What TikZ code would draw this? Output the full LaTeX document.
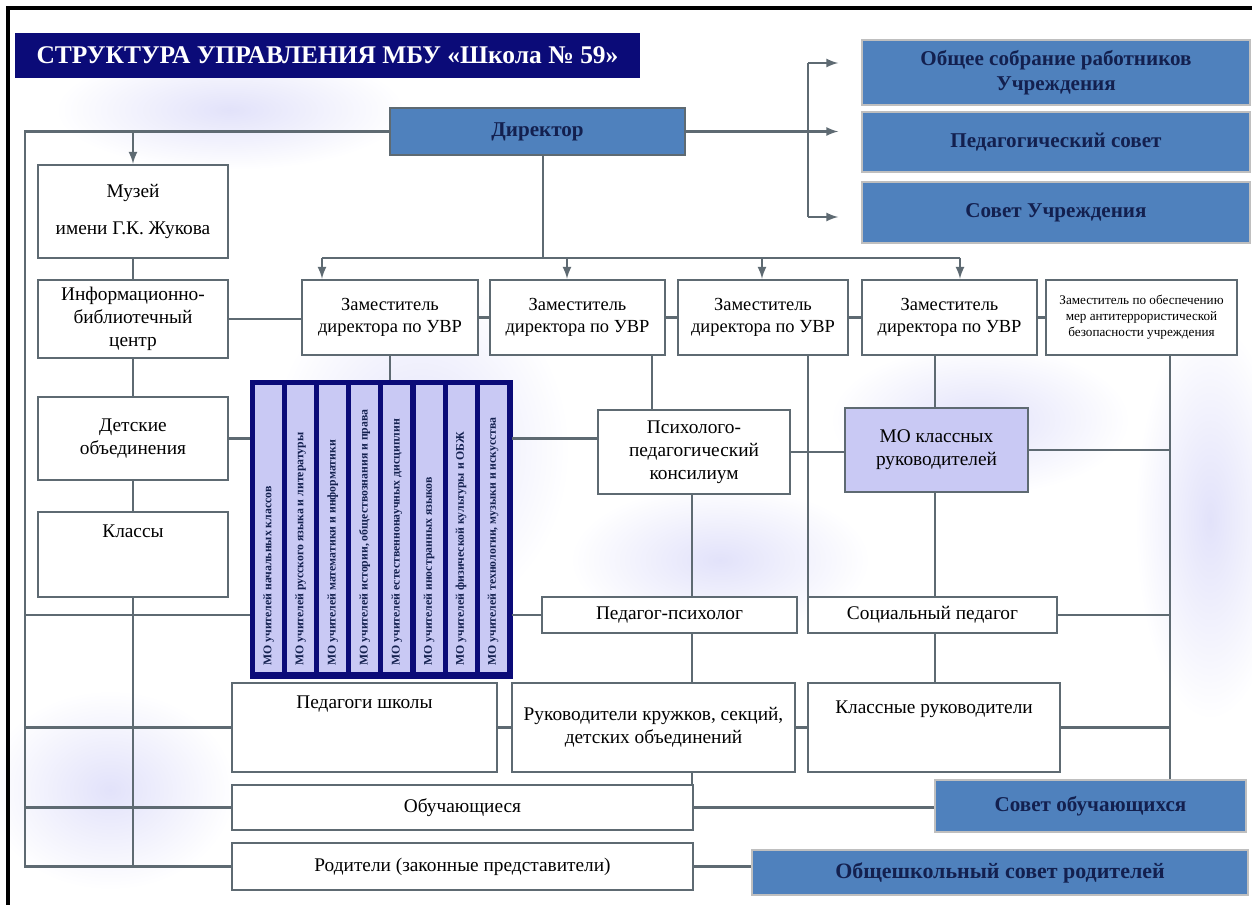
\documentclass[tikz,border=0pt]{standalone}
\usepackage{fontspec}
\setmainfont{Liberation Serif}
\usetikzlibrary{arrows}
\definecolor{linegray}{HTML}{5E6A72}
\definecolor{steel}{HTML}{4F81BD}
\definecolor{navy}{HTML}{0B0B78}
\definecolor{darktext}{HTML}{13204F}
\definecolor{lavender}{HTML}{C9C9F4}
\definecolor{haze}{HTML}{E2E2FA}
\tikzset{
  box/.style={draw=linegray, line width=1.5pt, fill=white, align=center, inner sep=1pt, font=\fontsize{11}{13}\selectfont},
  bluebox/.style={draw=gray!50, line width=1pt, fill=steel, text=darktext, align=center, inner sep=1pt, font=\bfseries\fontsize{12}{14}\selectfont},
  link/.style={draw=linegray, line width=1.3pt},
  motext/.style={rotate=90, anchor=west, inner sep=0pt, text=darktext, font=\bfseries\fontsize{6.7}{7}\selectfont},
}

\begin{document}
\begin{tikzpicture}[x=0.02cm,y=-0.02cm,>=latex]
	\useasboundingbox (0,0) rectangle (1252,905);
	% background haze
	\fill[white] (0,0) rectangle (1252,905);
	\shade[inner color=haze, outer color=white] (230,110) ellipse (3.5cm and 1.2cm);
	\shade[inner color=haze, outer color=white] (420,450) ellipse (3cm and 3.5cm);
	\shade[inner color=haze, outer color=white] (720,560) ellipse (3cm and 1.5cm);
	\shade[inner color=haze, outer color=white] (1210,520) ellipse (1.5cm and 4cm);
	\shade[inner color=haze, outer color=white] (110,790) ellipse (2.5cm and 2cm);
	\shade[inner color=haze, outer color=white] (980,420) ellipse (3cm and 1.5cm);
	\draw[line width=2pt] (8,905) -- (8,8) -- (1252,8);

	% title and top
	\node[fill=navy, text=white, minimum width=12.5cm, minimum height=0.9cm, inner sep=0pt, font=\bfseries\fontsize{14.5}{16}\selectfont] (title) at (327.5,55.5) {СТРУКТУРА УПРАВЛЕНИЯ МБУ «Школа № 59»};
	\node[bluebox, draw=linegray, line width=1.5pt, minimum width=5.9cm, minimum height=0.94cm] (dir) at (537.5,131.5) {Директор};
	\node[bluebox, minimum width=7.76cm, minimum height=1.3cm] (sobr) at (1056,72.5) {Общее собрание работников\\Учреждения};
	\node[bluebox, minimum width=7.76cm, minimum height=1.2cm] (pedsov) at (1056,142) {Педагогический совет};
	\node[bluebox, minimum width=7.76cm, minimum height=1.22cm] (sovet) at (1056,212.5) {Совет Учреждения};

	% left column
	\node[box, minimum width=3.8cm, minimum height=1.86cm] (museum) at (133,211.5) {Музей\\[8pt]имени Г.К. Жукова};
	\node[box, minimum width=3.8cm, minimum height=1.56cm] (ibc) at (133,319) {Информационно-\\библиотечный\\центр};
	\node[box, minimum width=3.8cm, minimum height=1.66cm] (deti) at (133,438.5) {Детские\\объединения};
	\node[box, minimum width=3.8cm, minimum height=1.7cm] (klassy) at (133,554.5) {Классы\\[14pt]};

	% deputies
	\node[box, font=\fontsize{10.5}{12.5}\selectfont, minimum width=3.52cm, minimum height=1.5cm] (d1) at (390,317.5) {Заместитель\\директора по УВР};
	\node[box, font=\fontsize{10.5}{12.5}\selectfont, minimum width=3.5cm, minimum height=1.5cm] (d2) at (577.5,317.5) {Заместитель\\директора по УВР};
	\node[box, font=\fontsize{10.5}{12.5}\selectfont, minimum width=3.4cm, minimum height=1.5cm] (d3) at (763,317.5) {Заместитель\\директора по УВР};
	\node[box, font=\fontsize{10.5}{12.5}\selectfont, minimum width=3.5cm, minimum height=1.5cm] (d4) at (949.5,317.5) {Заместитель\\директора по УВР};
	\node[box, font=\fontsize{7.5}{9}\selectfont, minimum width=3.82cm, minimum height=1.5cm] (d5) at (1141.5,317.5) {Заместитель по обеспечению\\мер антитеррористической\\безопасности учреждения};

	% MO column
	\node[fill=navy, draw=navy, minimum width=5.24cm, minimum height=5.96cm, inner sep=0pt] (mocol) at (381,529) {};
	\foreach \i in {0,...,7}
		\fill[lavender] (255+\i*32.1,385) rectangle +(27,287);
	\foreach \i/\t in {0/{МО учителей начальных классов},
		1/{МО учителей русского языка и литературы},
		2/{МО учителей математики и информатики},
		3/{МО учителей истории, обществознания и права},
		4/{МО учителей естественнонаучных дисциплин},
		5/{МО учителей иностранных языков},
		6/{МО учителей физической культуры и ОБЖ},
		7/{МО учителей технологии, музыки и искусства}}
		\node[motext] at (268.5+\i*32.1,666) {\t};

	% middle
	\node[box, minimum width=3.84cm, minimum height=1.68cm] (ppk) at (694,452) {Психолого-\\педагогический\\консилиум};
	\node[box, fill=lavender, minimum width=3.66cm, minimum height=1.68cm] (mokr) at (936.5,450) {МО классных\\руководителей};
	\node[box, minimum width=5.1cm, minimum height=0.72cm] (psy) at (669.5,615) {Педагог-психолог};
	\node[box, minimum width=4.98cm, minimum height=0.72cm] (soc) at (932.5,615) {Социальный педагог};
	\node[box, minimum width=5.3cm, minimum height=1.78cm] (pedsch) at (364.5,727.5) {Педагоги школы\\[16pt]};
	\node[box, minimum width=5.66cm, minimum height=1.78cm] (ruk) at (653.5,727.5) {Руководители кружков, секций,\\детских объединений};
	\node[box, minimum width=5.04cm, minimum height=1.78cm] (klruk) at (934,727.5) {Классные руководители\\[10pt]};
	\node[box, minimum width=9.22cm, minimum height=0.9cm] (obuch) at (462.5,807.5) {Обучающиеся};
	\node[box, minimum width=9.22cm, minimum height=0.94cm] (rodit) at (462.5,866.5) {Родители (законные представители)};
	\node[bluebox, minimum width=6.22cm, minimum height=1.04cm] (sovob) at (1090.5,806) {Совет обучающихся};
	\node[bluebox, font=\bfseries\fontsize{12.5}{14}\selectfont, minimum width=9.92cm, minimum height=0.9cm] (obsov) at (1000,872.5) {Общешкольный совет родителей};

	% director to the right
	\coordinate (br) at (808,131.5);
	\coordinate (bt) at (808,63);
	\coordinate (bb) at (808,217);
	\draw[link] (dir.east) -- (br);
	\draw[link] (bt) -- (bb);
	\draw[link,->,shorten >=0.46cm] (br) -- (br -| pedsov.west);
	\draw[link,->,shorten >=0.46cm] (bt) -- (bt -| sobr.west);
	\draw[link,->,shorten >=0.46cm] (bb) -- (bb -| sovet.west);

	% left trunk
	\coordinate (lt) at (25,131.5);
	\coordinate (lb) at (25,866.5);
	\draw[link] (dir.west) -- (lt) -- (lb) -- (rodit.west);
	\draw[link,->] (museum.north |- lt) -- (museum.north);
	\draw[link] (museum) -- (ibc) -- (deti) -- (klassy);
	\draw[link] (klassy.south) -- (klassy.south |- lb);
	\draw[link] (lt |- psy.west) -- (mocol.west |- psy.west);
	\draw[link] (lt |- pedsch.west) -- (pedsch.west);
	\draw[link] (lt |- obuch.west) -- (obuch.west);
	\draw[link] (ibc.east) -- (ibc.east -| d1.west);
	\draw[link] (deti.east) -- (deti.east -| mocol.west);
	\draw[link] (mocol.east |- deti.east) -- (ppk.west |- deti.east);
	\draw[link] (mocol.east |- psy.west) -- (psy.west);

	% director to deputies
	\coordinate (b1) at (322,258);
	\coordinate (b2) at (567,258);
	\coordinate (b3) at (762,258);
	\coordinate (b4) at (960,258);
	\draw[link] (dir.south -| 543,0) -- (543,258);
	\draw[link] (b1) -- (b4);
	\foreach \b/\d in {b1/d1,b2/d2,b3/d3,b4/d4}
		\draw[link,->] (\b) -- (\b |- \d.north);
	\draw[link] (d1) -- (d2) -- (d3) -- (d4) -- (d5);

	% verticals
	\coordinate (c2) at (652,400);
	\coordinate (c3) at (808,400);
	\coordinate (c4) at (935,400);
	\coordinate (c5) at (692,400);
	\coordinate (c6) at (1170,400);
	\draw[link] (d1.south) -- (d1.south |- mocol.north);
	\draw[link] (d2.south -| c2) -- (ppk.north -| c2);
	\draw[link] (d3.south -| c3) -- (soc.north -| c3);
	\draw[link] (d4.south -| c4) -- (mokr.north -| c4);
	\draw[link] (mokr.south -| c4) -- (soc.north -| c4);
	\draw[link] (soc.south -| c4) -- (klruk.north -| c4);
	\draw[link] (ppk.south -| c5) -- (psy.north -| c5);
	\draw[link] (psy.south -| c5) -- (ruk.north -| c5);
	\draw[link] (ruk.south -| c5) -- (obuch.north -| c5);
	\draw[link] (d5.south -| c6) -- (sovob.north -| c6);
	\draw[link] (ppk.east) -- (ppk.east -| mokr.west);
	\draw[link] (mokr.east) -- (mokr.east -| c6);
	\draw[link] (soc.east) -- (soc.east -| c6);
	\draw[link] (klruk.east) -- (klruk.east -| c6);

	% bottom
	\draw[link] (pedsch) -- (ruk) -- (klruk);
	\draw[link] (obuch.east) -- (obuch.east -| sovob.west);
	\draw[link] (rodit.east) -- (rodit.east -| obsov.west);
\end{tikzpicture}
\end{document}
